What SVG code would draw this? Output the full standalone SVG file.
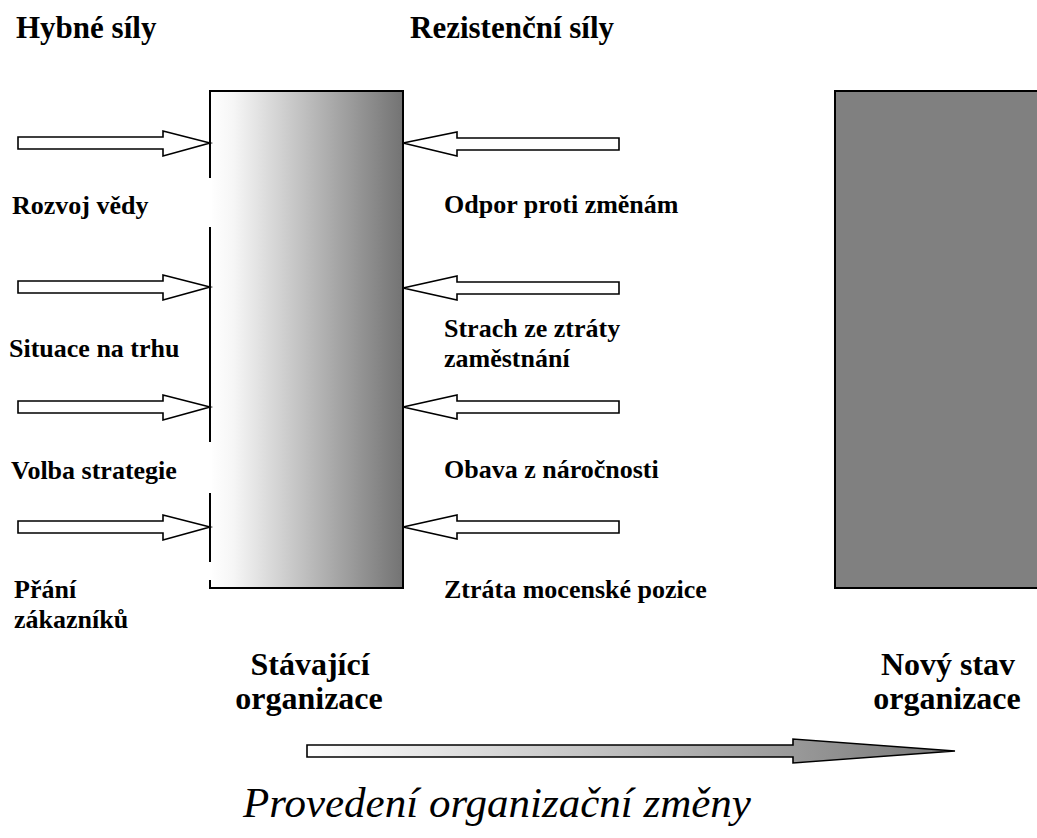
<svg xmlns="http://www.w3.org/2000/svg" width="1037" height="838" viewBox="0 0 1037 838">
  <style>
    .lbl { font-family: "Liberation Serif", "Times New Roman", serif; font-weight: bold; font-size: 26px; fill: #000; }
    .head { font-family: "Liberation Serif", "Times New Roman", serif; font-weight: bold; font-size: 31px; fill: #000; }
    .big { font-family: "Liberation Serif", "Times New Roman", serif; font-weight: bold; font-size: 32px; fill: #000; }
    .title { font-family: "Liberation Serif", "Times New Roman", serif; font-style: italic; font-size: 43px; fill: #000; }
    .force { fill: #fff; stroke: #000; stroke-width: 1.6; stroke-linejoin: miter; }
  </style>
  <defs>
    <linearGradient id="orgGrad" x1="0" y1="0" x2="1" y2="0">
      <stop offset="0" stop-color="#ffffff"/>
      <stop offset="0.12" stop-color="#f6f6f6"/>
      <stop offset="1" stop-color="#737373"/>
    </linearGradient>
    <linearGradient id="changeGrad" x1="0" y1="0" x2="1" y2="0">
      <stop offset="0" stop-color="#ffffff"/>
      <stop offset="1" stop-color="#777777"/>
    </linearGradient>
  </defs>

  <!-- column headings -->
  <text id="driving-heading" class="head" x="16" y="38">Hybné síly</text>
  <text id="restraining-heading" class="head" x="410" y="38">Rezistenční síly</text>

  <!-- current organisation -->
  <g id="current-org">
    <rect x="210" y="91" width="193" height="497" fill="url(#orgGrad)" stroke="#000" stroke-width="2"/>
    <rect x="208" y="178" width="4" height="49" fill="#fff"/>
    <rect x="208" y="442" width="4" height="51" fill="#fff"/>
    <rect x="208" y="562" width="4" height="18" fill="#fff"/>
    <text class="big" x="310" y="675" text-anchor="middle">Stávající</text>
    <text class="big" x="309" y="709" text-anchor="middle">organizace</text>
  </g>

  <!-- new state -->
  <g id="new-org">
    <rect x="835" y="91" width="210" height="497" fill="#808080" stroke="#000" stroke-width="2"/>
    <text class="big" x="948" y="675" text-anchor="middle">Nový stav</text>
    <text class="big" x="947" y="709" text-anchor="middle">organizace</text>
  </g>

  <!-- driving forces -->
  <g id="driving-forces">
    <g id="force-science">
      <text class="lbl" x="12" y="214">Rozvoj vědy</text>
    </g>
    <g id="force-market">
      <text class="lbl" x="9" y="357">Situace na trhu</text>
    </g>
    <g id="force-strategy">
      <text class="lbl" x="11" y="479">Volba strategie</text>
    </g>
    <g id="force-customers">
      <text class="lbl" x="14" y="598">Přání</text>
      <text class="lbl" x="14" y="628">zákazníků</text>
    </g>
  </g>

  <!-- restraining forces -->
  <g id="restraining-forces">
    <g id="force-resistance">
      <text class="lbl" x="444" y="213">Odpor proti změnám</text>
    </g>
    <g id="force-job-loss">
      <text class="lbl" x="444" y="337">Strach ze ztráty</text>
      <text class="lbl" x="444" y="367">zaměstnání</text>
    </g>
    <g id="force-difficulty">
      <text class="lbl" x="444" y="478">Obava z náročnosti</text>
    </g>
    <g id="force-power">
      <text class="lbl" x="444" y="598">Ztráta mocenské pozice</text>
    </g>
  </g>

  <!-- connectors: force arrows and the change arrow -->
  <g id="connectors">
    <path class="force" d="M18,137 H163 V131 L210,143 L163,156 V149 H18 Z"/>
    <path class="force" d="M18,281 H163 V275 L210,287 L163,300 V293 H18 Z"/>
    <path class="force" d="M18,401 H163 V395 L210,407 L163,420 V413 H18 Z"/>
    <path class="force" d="M18,521 H163 V515 L210,527 L163,540 V533 H18 Z"/>

    <path class="force" d="M619,138 H457 V132 L403,143 L457,156 V150 H619 Z"/>
    <path class="force" d="M619,282 H457 V276 L403,288 L457,300 V294 H619 Z"/>
    <path class="force" d="M619,401 H457 V395 L403,407 L457,419 V413 H619 Z"/>
    <path class="force" d="M619,521 H457 V515 L403,527 L457,539 V533 H619 Z"/>

    <path id="change-arrow" d="M307,745 H793 V739 L955,751 L793,763 V757 H307 Z" fill="url(#changeGrad)" stroke="#000" stroke-width="1.6"/>
  </g>

  <text id="change-caption" class="title" x="497" y="817" text-anchor="middle">Provedení organizační změny</text>
</svg>
